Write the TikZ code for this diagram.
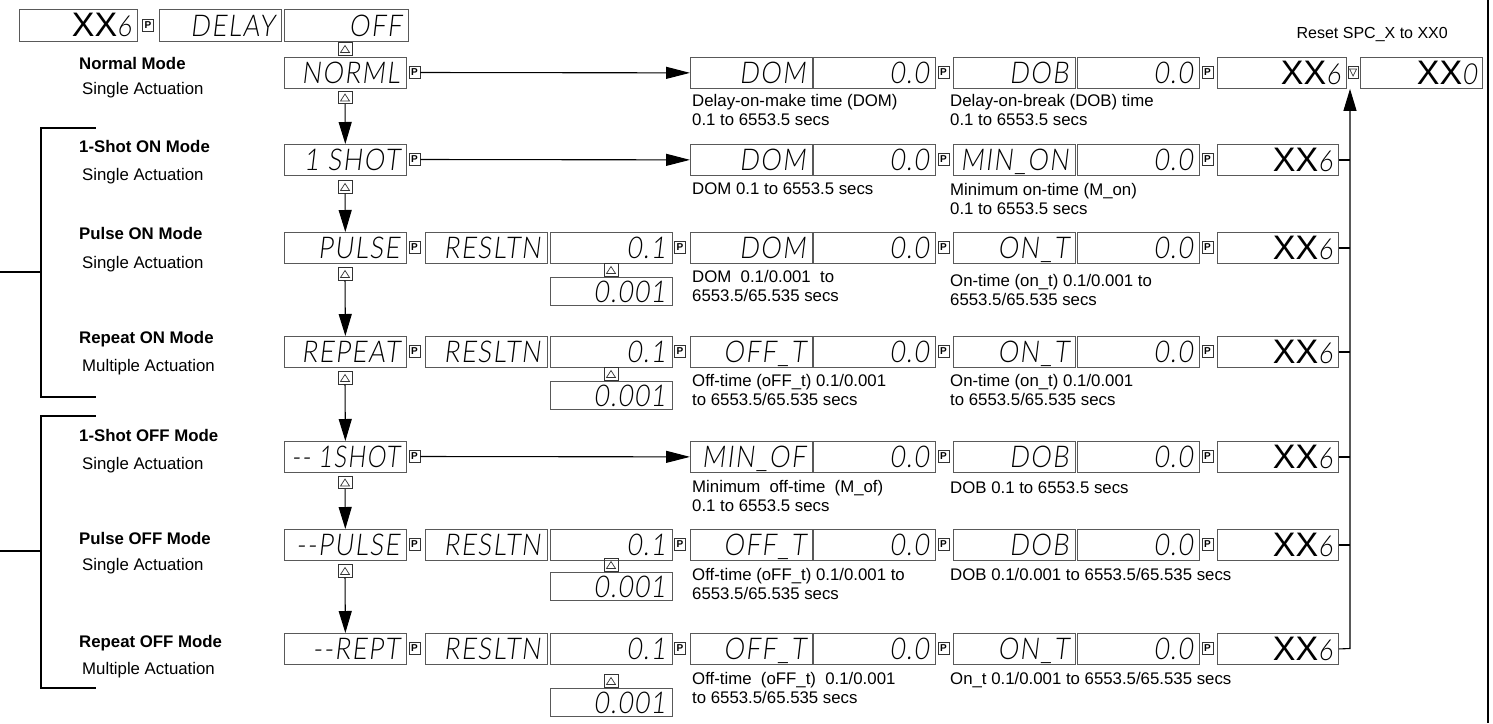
\documentclass[tikz,border=0pt]{standalone}
\usepackage{fontspec}
\usepackage{graphicx}
\setmainfont{Liberation Sans}
\IfFontExistsTF{Lato Light}{\newfontfamily\segfont{Lato Light}[FakeSlant=0.12,FakeStretch=0.86,LetterSpace=5]}{\newfontfamily\segfont{DejaVu Sans}[FakeSlant=0.12,FakeStretch=0.8]}
\usetikzlibrary{arrows.meta}
\newsavebox{\segbox}
\newlength{\segmax}
\newcommand{\segfit}[2]{\sbox{\segbox}{#2}\setlength{\segmax}{#1pt}\addtolength{\segmax}{-14pt}%
  \ifdim\wd\segbox>\segmax\relax\resizebox{\segmax}{\height}{\usebox{\segbox}}\else\usebox{\segbox}\fi}
\newcommand{\dbx}[6]{%
  \node[dispbox, minimum width=#4pt, minimum height=#5pt, anchor=north west] (#1) at (#2,#3) {};
  \node[disptext, anchor=base east] (#1t) at ([xshift=-7pt,yshift=-11pt]#1.east) {\segfit{#4}{#6}};}
\newcommand{\xxb}[6]{%
  \node[dispbox, minimum width=#4pt, minimum height=#5pt, anchor=north west] (#1) at (#2,#3) {};
  \node[anchor=base east, inner sep=0pt] (#1t) at ([xshift=-6pt,yshift=-11.5pt]#1.east) {\fontsize{34}{34}\selectfont XX{\segfont\fontsize{29}{29}\selectfont #6}};}
\newcommand{\rowhead}[3]{% id, top, text
  \pgfmathsetmacro{\rowc}{#2+15.5}
  \dbx{m#1}{284}{#2}{122}{31}{#3}
  \node[picon] (pa#1) at (414.5,\rowc) {P};}
\newcommand{\rowres}[3]{% id, top, top of 0.001 box
  \pgfmathsetmacro{\rowc}{#2+15.5}
  \pgfmathsetmacro{\rowt}{#3-7}
  \dbx{r#1}{425}{#2}{122}{31}{RESLTN}
  \dbx{v#1}{550}{#2}{122}{31}{0.1}
  \node[picon] (pb#1) at (680,\rowc) {P};
  \node[tup] (tv#1) at (611,\rowt) {};
  \dbx{w#1}{550}{#3}{122}{28}{0.001}}
\newcommand{\rowtail}[4]{% id, top, c5 text, xx width
  \pgfmathsetmacro{\rowc}{#2+15.5}
  \dbx{c4#1}{813}{#2}{122}{31}{0.0}
  \node[picon] (pc#1) at (943.5,\rowc) {P};
  \dbx{c5#1}{953}{#2}{122}{31}{#3}
  \dbx{c6#1}{1077}{#2}{122}{31}{0.0}
  \node[picon] (pd#1) at (1207.5,\rowc) {P};
  \xxb{xx#1}{1217}{#2}{#4}{31}{6}}
\begin{document}
\begin{tikzpicture}[x=1pt,y=-1pt,
  dispbox/.style={draw=black!65, line width=0.9pt, inner sep=0pt},
  disptext/.style={font=\segfont\fontsize{30}{30}\selectfont, inner sep=0pt},
  picon/.style={draw=black!80, line width=0.8pt, minimum width=11pt, minimum height=12pt, inner sep=0pt, font=\bfseries\fontsize{10}{10}\selectfont},
  tup/.style={draw=black!80, line width=0.8pt, minimum width=14pt, minimum height=12.5pt, inner sep=0pt,
    path picture={\draw[line width=0.7pt] ([xshift=-4.5pt,yshift=-3.5pt]path picture bounding box.center) -- ++(9pt,0pt) -- ++(-4.5pt,7pt) -- cycle;}},
  tdown/.style={draw=black!80, line width=0.8pt, minimum width=10pt, minimum height=12pt, inner sep=0pt,
    path picture={\draw[line width=0.7pt] ([xshift=-3.5pt,yshift=3.5pt]path picture bounding box.center) -- ++(7pt,0pt) -- ++(-3.5pt,-7pt) -- cycle;}},
  conn/.style={line width=1.1pt, draw=black},
  arr/.style={conn, -{Triangle[length=22pt,width=13pt]}},
  harr/.style={conn, -{Triangle[length=24pt,width=12pt]}},
  modeb/.style={font=\bfseries\fontsize{16.8}{19}\selectfont, anchor=north west, inner sep=0pt},
  modes/.style={font=\fontsize{16.8}{19}\selectfont, anchor=north west, inner sep=0pt},
  desc/.style={font=\fontsize{16.8}{19}\selectfont, align=left, anchor=north west, inner sep=0pt},
  brk/.style={line width=2.4pt, line cap=rect}
]
\fill[white] (0,0) rectangle (1493,723);
\useasboundingbox (0,0) rectangle (1493,723);

% ---- top row
\xxb{x0}{19}{9}{118}{32}{6}
\node[picon] (p0) at (148,25) {P};
\dbx{delay}{159}{9}{122}{32}{DELAY}
\dbx{off}{284}{9}{124}{32}{OFF}
\node[tup] (t0) at (345,49) {};
\node[anchor=north east, inner sep=0pt, font=\fontsize{16}{19}\selectfont] (reset) at (1448,26.7) {Reset SPC\_X to XX0};

% ---- row 1 Normal
\rowhead{1}{57}{NORML}
\dbx{c31}{690}{57}{122}{31}{DOM}
\rowtail{1}{57}{DOB}{129}
\node[tdown] (td) at (1353,72.5) {};
\xxb{xz}{1360}{57}{122}{31}{0}
\node[tup] (t1) at (345,97.5) {};
\draw[harr] (pa1) -- (c31);
\node[desc] (d31) at (692,93.7) {Delay-on-make time (DOM)\\0.1 to 6553.5 secs};
\node[desc] (d51) at (950,93.7) {Delay-on-break (DOB) time\\0.1 to 6553.5 secs};

% ---- row 2 1-shot on
\rowhead{2}{144}{1 SHOT}
\dbx{c32}{690}{144}{122}{31}{DOM}
\rowtail{2}{144}{MIN\_ON}{121}
\node[tup] (t2) at (345,187) {};
\draw[harr] (pa2) -- (c32);
\node[desc] (d32) at (692,182.7) {DOM 0.1 to 6553.5 secs};
\node[desc] (d52) at (950,182.7) {Minimum on-time (M\_on)\\0.1 to 6553.5 secs};

% ---- row 3 pulse on
\rowhead{3}{232}{PULSE}
\rowres{3}{232}{277}
\dbx{c33}{690}{232}{122}{31}{DOM}
\rowtail{3}{232}{ON\_T}{121}
\node[tup] (t3) at (345,274) {};
\node[desc] (d33) at (692,269.7) {DOM~~0.1/0.001~~to\\6553.5/65.535 secs};
\node[desc] (d53) at (950,273.7) {On-time (on\_t) 0.1/0.001 to\\6553.5/65.535 secs};

% ---- row 4 repeat on
\rowhead{4}{336}{REPEAT}
\rowres{4}{336}{381}
\dbx{c34}{690}{336}{122}{31}{OFF\_T}
\rowtail{4}{336}{ON\_T}{121}
\node[tup] (t4) at (345,378) {};
\node[desc] (d34) at (692,373.7) {Off-time (oFF\_t) 0.1/0.001\\to 6553.5/65.535 secs};
\node[desc] (d54) at (950,373.7) {On-time (on\_t) 0.1/0.001\\to 6553.5/65.535 secs};

% ---- row 5 1-shot off
\rowhead{5}{441}{-{}- 1SHOT}
\dbx{c35}{690}{441}{122}{31}{MIN\_OF}
\rowtail{5}{441}{DOB}{121}
\node[tup] (t5) at (345,482.5) {};
\draw[harr] (pa5) -- (c35);
\node[desc] (d35) at (692,479.7) {Minimum~~off-time~~(M\_of)\\0.1 to 6553.5 secs};
\node[desc] (d55) at (950,481.7) {DOB 0.1 to 6553.5 secs};

% ---- row 6 pulse off
\rowhead{6}{529}{-{}-PULSE}
\rowres{6}{529}{572}
\dbx{c36}{690}{529}{122}{31}{OFF\_T}
\rowtail{6}{529}{DOB}{121}
\node[tup] (t6) at (345,571) {};
\node[desc] (d36) at (692,567.7) {Off-time (oFF\_t) 0.1/0.001 to\\6553.5/65.535 secs};
\node[desc] (d56) at (950,567.7) {DOB 0.1/0.001 to 6553.5/65.535 secs};

% ---- row 7 repeat off
\rowhead{7}{633}{-{}-REPT}
\rowres{7}{633}{688}
\dbx{c37}{690}{633}{122}{31}{OFF\_T}
\rowtail{7}{633}{ON\_T}{121}
\node[desc] (d37) at (692,671.7) {Off-time~~(oFF\_t)~~0.1/0.001\\to 6553.5/65.535 secs};
\node[desc] (d57) at (950,671.7) {On\_t 0.1/0.001 to 6553.5/65.535 secs};

% ---- vertical arrows between modes
\draw[arr] (t1) -- (m2);
\draw[arr] (t2) -- (m3);
\draw[arr] (t3) -- (m4);
\draw[arr] (t4) -- (m5);
\draw[arr] (t5) -- (m6);
\draw[arr] (t6) -- (m7);

% ---- return line
\coordinate (rv) at (1350,648.5);
\foreach \i in {2,...,6} {\draw[conn] (xx\i.east) -- (xx\i.east -| rv);}
\draw[arr] (xx7.east) -- (rv) -- (rv |- xx1.south);

% ---- left labels
\node[modeb] (l1) at (79,56.7) {Normal Mode};
\node[modes] (s1) at (82,81.7) {Single Actuation};
\node[modeb] (l2) at (79,139.7) {1-Shot ON Mode};
\node[modes] (s2) at (82,167.7) {Single Actuation};
\node[modeb] (l3) at (79,226.7) {Pulse ON Mode};
\node[modes] (s3) at (82,255.7) {Single Actuation};
\node[modeb] (l4) at (79,330.7) {Repeat ON Mode};
\node[modes] (s4) at (82,358.7) {Multiple Actuation};
\node[modeb] (l5) at (79,428.7) {1-Shot OFF Mode};
\node[modes] (s5) at (82,456.7) {Single Actuation};
\node[modeb] (l6) at (79,531.7) {Pulse OFF Mode};
\node[modes] (s6) at (82,557.7) {Single Actuation};
\node[modeb] (l7) at (79,634.7) {Repeat OFF Mode};
\node[modes] (s7) at (82,661.7) {Multiple Actuation};

% ---- brackets
\draw[brk] (95,128) -- (41,128) -- (41,397) -- (95,397);
\draw[brk] (0,272) -- (41,272);
\draw[brk] (95,416) -- (41,416) -- (41,688) -- (95,688);
\draw[brk] (0,551) -- (41,551);

% ---- right border
\draw[line width=2.5pt] (1488,0) -- (1488,723);
\end{tikzpicture}
\end{document}
